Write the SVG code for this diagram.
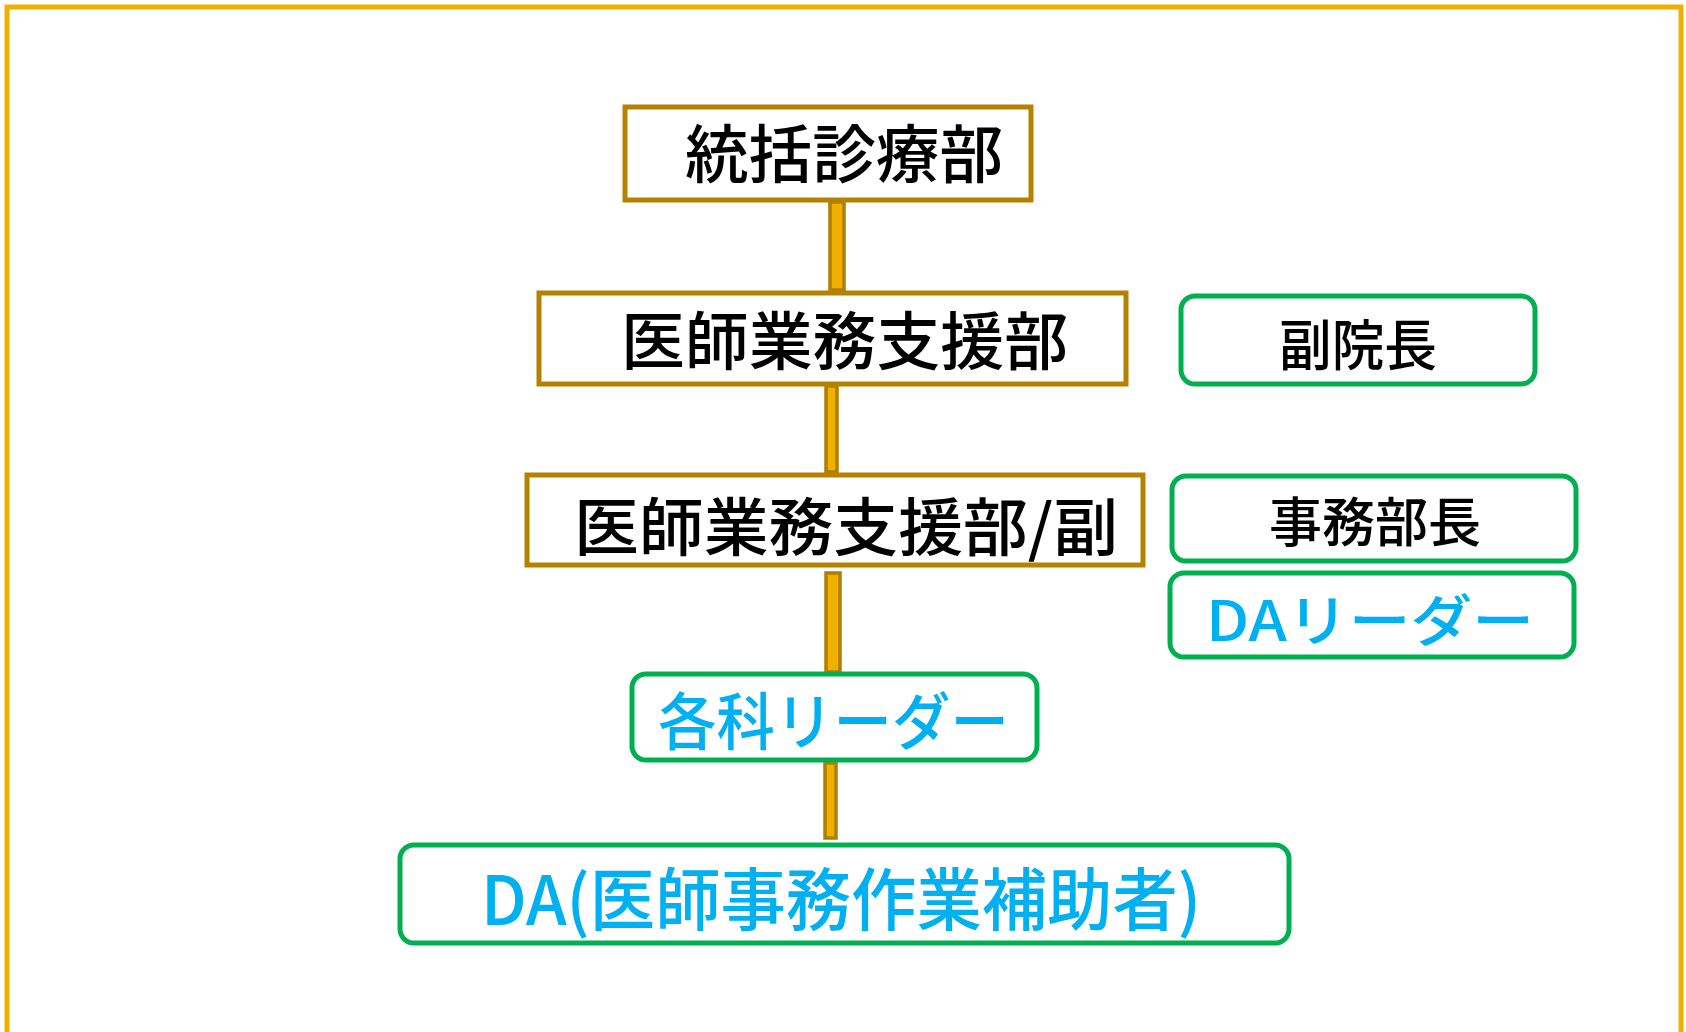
<svg xmlns="http://www.w3.org/2000/svg" width="1686" height="1032" viewBox="0 0 1686 1032">
<style>
.frame{fill:none;stroke:#F0B000;stroke-width:5}
.sq{fill:#fff;stroke:#B58200;stroke-width:5}
.rd{fill:#fff;stroke:#00B050;stroke-width:5}
.bar{fill:#F0B000;stroke:#B07E00;stroke-width:3.5}
.t{font-family:"Noto Sans CJK JP","Noto Sans",sans-serif;font-weight:500}
.k{fill:#000}
.c{fill:#00B0F0}
</style>
<rect class="frame" x="7" y="7" width="1674" height="1040"/>
<g id="connectors">
<rect class="bar" x="830" y="202" width="14" height="88"/>
<rect class="bar" x="826" y="386" width="11" height="86"/>
<rect class="bar" x="826" y="573" width="14" height="99"/>
<rect class="bar" x="825" y="763" width="11" height="75"/>
</g>
<g id="n1">
<rect class="sq" x="625" y="107" width="406" height="93"/>
<text class="t k" x="685" y="177" font-size="63" textLength="318" lengthAdjust="spacingAndGlyphs">統括診療部</text>
</g>
<g id="n2">
<rect class="sq" x="539" y="293" width="587" height="91"/>
<text class="t k" x="621" y="364" font-size="63" textLength="447" lengthAdjust="spacingAndGlyphs">医師業務支援部</text>
</g>
<g id="n3">
<rect class="sq" x="527" y="475" width="616" height="90"/>
<text class="t k" x="574" y="550" font-size="63" textLength="544" lengthAdjust="spacingAndGlyphs">医師業務支援部/副</text>
</g>
<g id="n4">
<rect class="rd" x="632" y="674" width="405" height="86" rx="14"/>
<text class="t c" x="658" y="745" font-size="62" textLength="351" lengthAdjust="spacingAndGlyphs">各科リーダー</text>
</g>
<g id="n5">
<rect class="rd" x="400" y="845" width="889" height="98" rx="14"/>
<text class="t c" x="481" y="925" font-size="68" textLength="720" lengthAdjust="spacingAndGlyphs">DA(医師事務作業補助者)</text>
</g>
<g id="n6">
<rect class="rd" x="1181" y="296" width="354" height="88" rx="14"/>
<text class="t k" x="1279" y="365" font-size="55" textLength="158" lengthAdjust="spacingAndGlyphs">副院長</text>
</g>
<g id="n7">
<rect class="rd" x="1172" y="476" width="404" height="85" rx="14"/>
<text class="t k" x="1269" y="542" font-size="53" textLength="212" lengthAdjust="spacingAndGlyphs">事務部長</text>
</g>
<g id="n8">
<rect class="rd" x="1170" y="573" width="404" height="84" rx="14"/>
<text class="t c" x="1206" y="641" font-size="56" textLength="328" lengthAdjust="spacingAndGlyphs">DAリーダー</text>
</g>
</svg>
